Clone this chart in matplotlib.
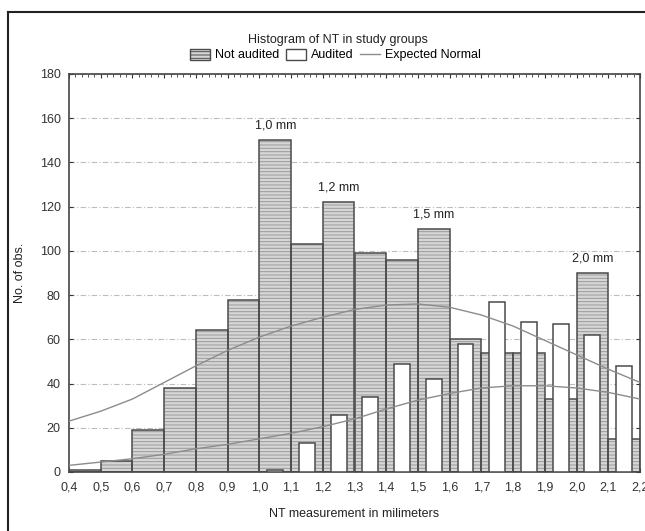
import matplotlib
matplotlib.use("Agg")
import matplotlib.pyplot as plt
from matplotlib.patches import Patch
from matplotlib.lines import Line2D
from matplotlib.ticker import MultipleLocator

# ---- data -------------------------------------------------------------
bin_starts = [0.4, 0.5, 0.6, 0.7, 0.8, 0.9, 1.0, 1.1, 1.2,
              1.3, 1.4, 1.5, 1.6, 1.7, 1.8, 1.9, 2.0, 2.1]
not_audited = [1, 5, 19, 38, 64, 78, 150, 103, 122,
               99, 96, 110, 60, 54, 54, 33, 90, 15]
audited = [0, 0, 0, 0, 0, 0, 1, 13, 26,
           34, 49, 42, 58, 77, 68, 67, 62, 48]

curve_x = [0.4, 0.5, 0.6, 0.7, 0.8, 0.9, 1.0, 1.1, 1.2, 1.3,
           1.4, 1.5, 1.6, 1.7, 1.8, 1.9, 2.0, 2.1, 2.2]
normal_not_audited = [23, 27.5, 33, 40.5, 48, 55, 61, 66, 70, 73.5,
                      75.5, 76, 74.5, 71, 66, 59.5, 53, 46.5, 40.5]
normal_audited = [3, 4.5, 6, 8, 10.5, 12.5, 15, 17.5, 20.5, 24,
                  28.5, 32.5, 35.5, 38, 39, 39, 38, 36, 33]

tick_values = [0.4, 0.5, 0.6, 0.7, 0.8, 0.9, 1.0, 1.1, 1.2, 1.3,
               1.4, 1.5, 1.6, 1.7, 1.8, 1.9, 2.0, 2.1, 2.2]
tick_labels = ["0,4", "0,5", "0,6", "0,7", "0,8", "0,9", "1,0", "1,1", "1,2", "1,3",
               "1,4", "1,5", "1,6", "1,7", "1,8", "1,9", "2,0", "2,1", "2,2"]
y_ticks = [0, 20, 40, 60, 80, 100, 120, 140, 160, 180]

peak_bins = [1.0, 1.2, 1.5, 2.0]
peak_texts = ["1,0 mm", "1,2 mm", "1,5 mm", "2,0 mm"]

# ---- style ------------------------------------------------------------
plt.rcParams["font.family"] = ["Liberation Sans", "DejaVu Sans"]
plt.rcParams["font.size"] = 9
plt.rcParams["hatch.linewidth"] = 0.7

BIN_W = 0.1
FILL = "#d6d6d6"
HATCH_C = "#9a9a9a"
EDGE = "#4a4a4a"
CURVE = "#8c8c8c"

fig = plt.figure(figsize=(6.45, 5.31), dpi=100)
ax = fig.add_axes([69 / 645, 1 - 472 / 531, (640 - 69) / 645, (472 - 74) / 531])

# not audited: striped fill first, outline on top
ax.bar(bin_starts, not_audited, width=BIN_W, align="edge",
       color=FILL, edgecolor=HATCH_C, hatch="-----", linewidth=0, zorder=2)
ax.bar(bin_starts, not_audited, width=BIN_W, align="edge",
       facecolor="none", edgecolor=EDGE, linewidth=1.1, zorder=3)

# audited: narrow white bars centred in each bin
aud_x = [b + BIN_W / 2 for b, v in zip(bin_starts, audited) if v > 0]
aud_h = [v for v in audited if v > 0]
ax.bar(aud_x, aud_h, width=BIN_W / 2, align="center",
       color="white", edgecolor=EDGE, linewidth=1.1, zorder=4)

# expected normal curves
ax.plot(curve_x, normal_not_audited, color=CURVE, lw=1.0, zorder=5)
ax.plot(curve_x, normal_audited, color=CURVE, lw=1.0, zorder=5)

# bin annotations
for b, t in zip(peak_bins, peak_texts):
    h = not_audited[bin_starts.index(b)]
    ax.annotate(t, (b + BIN_W / 2, h), xytext=(0, 6), textcoords="offset points",
                ha="center", va="bottom", fontsize=9, color="#222222")

# axes
ax.set_xlim(0.4, 2.2)
ax.set_ylim(0, 180)
ax.set_xticks(tick_values)
ax.set_xticklabels(tick_labels)
ax.set_yticks(y_ticks)
ax.xaxis.set_minor_locator(MultipleLocator(0.02))
ax.tick_params(axis="x", which="major", direction="in", length=3, top=True,
               pad=7, colors="#333333", labelsize=9)
ax.tick_params(axis="x", which="minor", direction="in", length=2.5, top=True,
               bottom=False, color="#333333")
ax.tick_params(axis="y", direction="in", length=3, right=True, pad=6,
               colors="#333333", labelsize=9)
for s in ax.spines.values():
    s.set_color("#444444")
    s.set_linewidth(1.2)

ax.yaxis.grid(True, linestyle=(0, (5, 2, 1, 2)), color="#bdbdbd", lw=0.8)
ax.set_axisbelow(True)

ax.set_xlabel("NT measurement in milimeters", fontsize=9, color="#222222", labelpad=10)
ax.set_ylabel("No. of obs.", fontsize=9, color="#222222", labelpad=10)

# title and legend
fig.text(0.524, 1 - 40 / 531, "Histogram of NT in study groups",
         ha="center", va="center", fontsize=9, color="#222222")
handles = [
    Patch(facecolor=FILL, edgecolor=EDGE, hatch="-----", linewidth=1.0),
    Patch(facecolor="white", edgecolor=EDGE, linewidth=1.0),
    Line2D([0], [0], color=CURVE, lw=1.0),
]
fig.legend(handles, ["Not audited", "Audited", "Expected Normal"],
           loc="center", bbox_to_anchor=(0.52, 1 - 55 / 531), ncol=3,
           frameon=False, fontsize=9, handlelength=1.6, handleheight=1.0,
           handletextpad=0.4, columnspacing=0.5, borderpad=0)

# outer frame (top and left edges)
fig.add_artist(Line2D([8 / 645, 8 / 645], [0, 1 - 12 / 531],
                      transform=fig.transFigure, color="#222222", lw=1.5))
fig.add_artist(Line2D([8 / 645, 1], [1 - 12 / 531, 1 - 12 / 531],
                      transform=fig.transFigure, color="#222222", lw=1.5))

fig.savefig("out.png", dpi=100)
